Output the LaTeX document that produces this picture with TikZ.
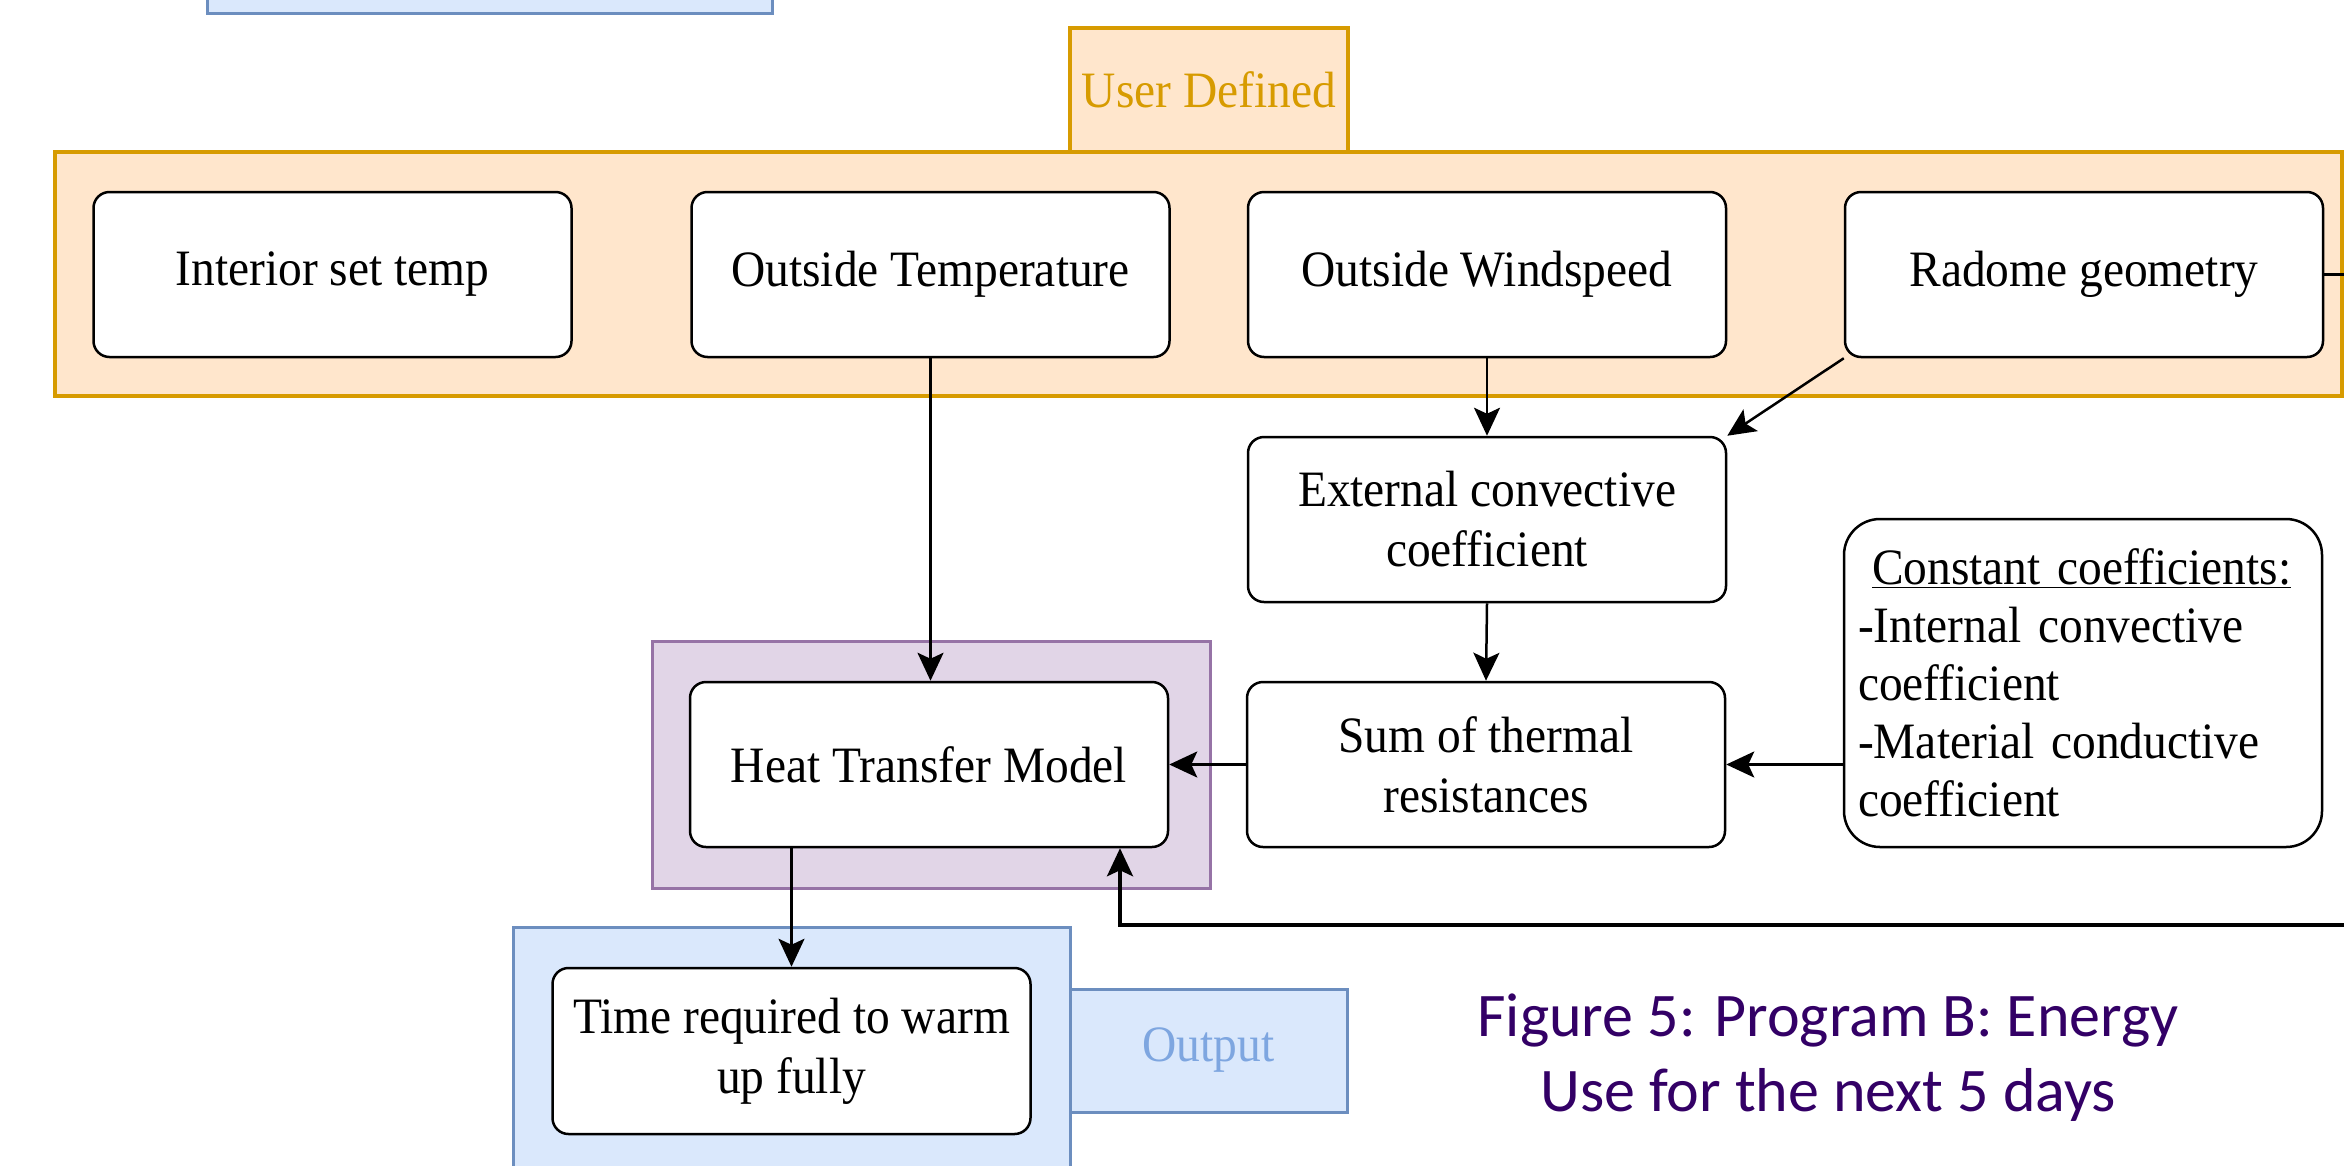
\documentclass[tikz,border=0pt]{standalone}
\usepackage{fontspec}
\setmainfont{Liberation Serif}[FakeStretch=0.93]
\newfontfamily\capfont{Carlito}
\usetikzlibrary{arrows.meta}
\definecolor{orfill}{HTML}{FFE6CC}
\definecolor{ordraw}{HTML}{D79B00}
\definecolor{pufill}{HTML}{E1D5E7}
\definecolor{pudraw}{HTML}{9673A6}
\definecolor{blfill}{HTML}{DAE8FC}
\definecolor{bldraw}{HTML}{6C8EBF}
\definecolor{bltext}{HTML}{7EA6E0}
\definecolor{captext}{HTML}{330066}
\begin{document}
\begin{tikzpicture}[x=1pt,y=-1pt,
  box/.style={draw=black, line width=2.5pt, fill=white, rounded corners=16pt,
    minimum width=478pt, minimum height=165pt, align=center, inner sep=0pt,
    font=\fontsize{51}{60}\selectfont},
  ctr/.style={line width=3pt, inner sep=0pt, font=\fontsize{51}{60}\selectfont},
  orctr/.style={ctr, draw=ordraw, fill=orfill, text=ordraw, line width=4pt},
  puctr/.style={ctr, draw=pudraw, fill=pufill},
  blctr/.style={ctr, draw=bldraw, fill=blfill, text=bltext},
  arr/.style={line width=2.5pt, -{Stealth[length=28pt,width=26pt,inset=6pt]}}
]
\useasboundingbox (0,0) rectangle (2344,1165);
\clip (0,0) rectangle (2344,1165);

% containers
\node[blctr, minimum width=565pt, minimum height=73pt] (topblue) at (489.5,-23.5) {};
\node[orctr, minimum width=2287pt, minimum height=244pt] (udbox) at (1198.5,274) {};
\node[orctr, minimum width=278pt, minimum height=124pt] (udtab) at (1209,90) {User Defined};
\node[puctr, minimum width=558pt, minimum height=247pt] (htmbox) at (931,764.5) {};
\node[blctr, minimum width=557pt, minimum height=273pt] (outbox) at (791.5,1063.5) {};
\node[blctr, minimum width=277pt, minimum height=123pt] (outtab) at (1208.5,1050.5) {Output};

% nodes
\node[box] (ist) at (332.5,274.5) {Interior set temp};
\node[box] (ot) at (930.5,274.5) {Outside Temperature};
\node[box] (ow) at (1487,274.5) {Outside Windspeed};
\node[box] (rad) at (2084,274.5) {Radome geometry};
\node[box] (ext) at (1487,519.5) {External convective\\coefficient};
\node[box] (sum) at (1486,764.5) {Sum of thermal\\resistances};
\node[box] (htm) at (929,764.5) {Heat Transfer Model};
\node[box, minimum height=328pt, rounded corners=36pt, text width=450pt, inner xsep=12pt,
  align=left, font=\fontsize{51}{58}\selectfont] (con) at (2083,683)
  {\hspace*{14pt}\underline{Constant coefficients:}\\-Internal convective\\coefficient\\-Material conductive\\coefficient};
\node[box, minimum height=166pt] (time) at (791.5,1051) {Time required to warm\\up fully};

\node[font=\capfont\fontsize{62}{75}\selectfont, text=captext, align=center, inner sep=0pt]
  (cap) at (1828,1058) {Figure 5: Program B: Energy\\Use for the next 5 days};

% connectors
\coordinate (fbturn) at (2420,925);
\coordinate (fb) at (1120,925);
\draw[arr] (ot.south) -- (ot.south |- htm.north);
\draw[arr] (ow.south) -- (ext.north);
\draw[arr] (rad.south west) -- (ext.north east);
\draw[arr] (ext.south) -- (sum.north);
\draw[arr] (sum.west) -- (htm.east);
\draw[arr] (con.west |- sum.east) -- (sum.east);
\draw[arr] (htm.south -| time.north) -- (time.north);
\draw[arr, line width=3.5pt] (rad.east) -| (fbturn) -- (fb) -- (fb |- htm.south);
\end{tikzpicture}
\end{document}
